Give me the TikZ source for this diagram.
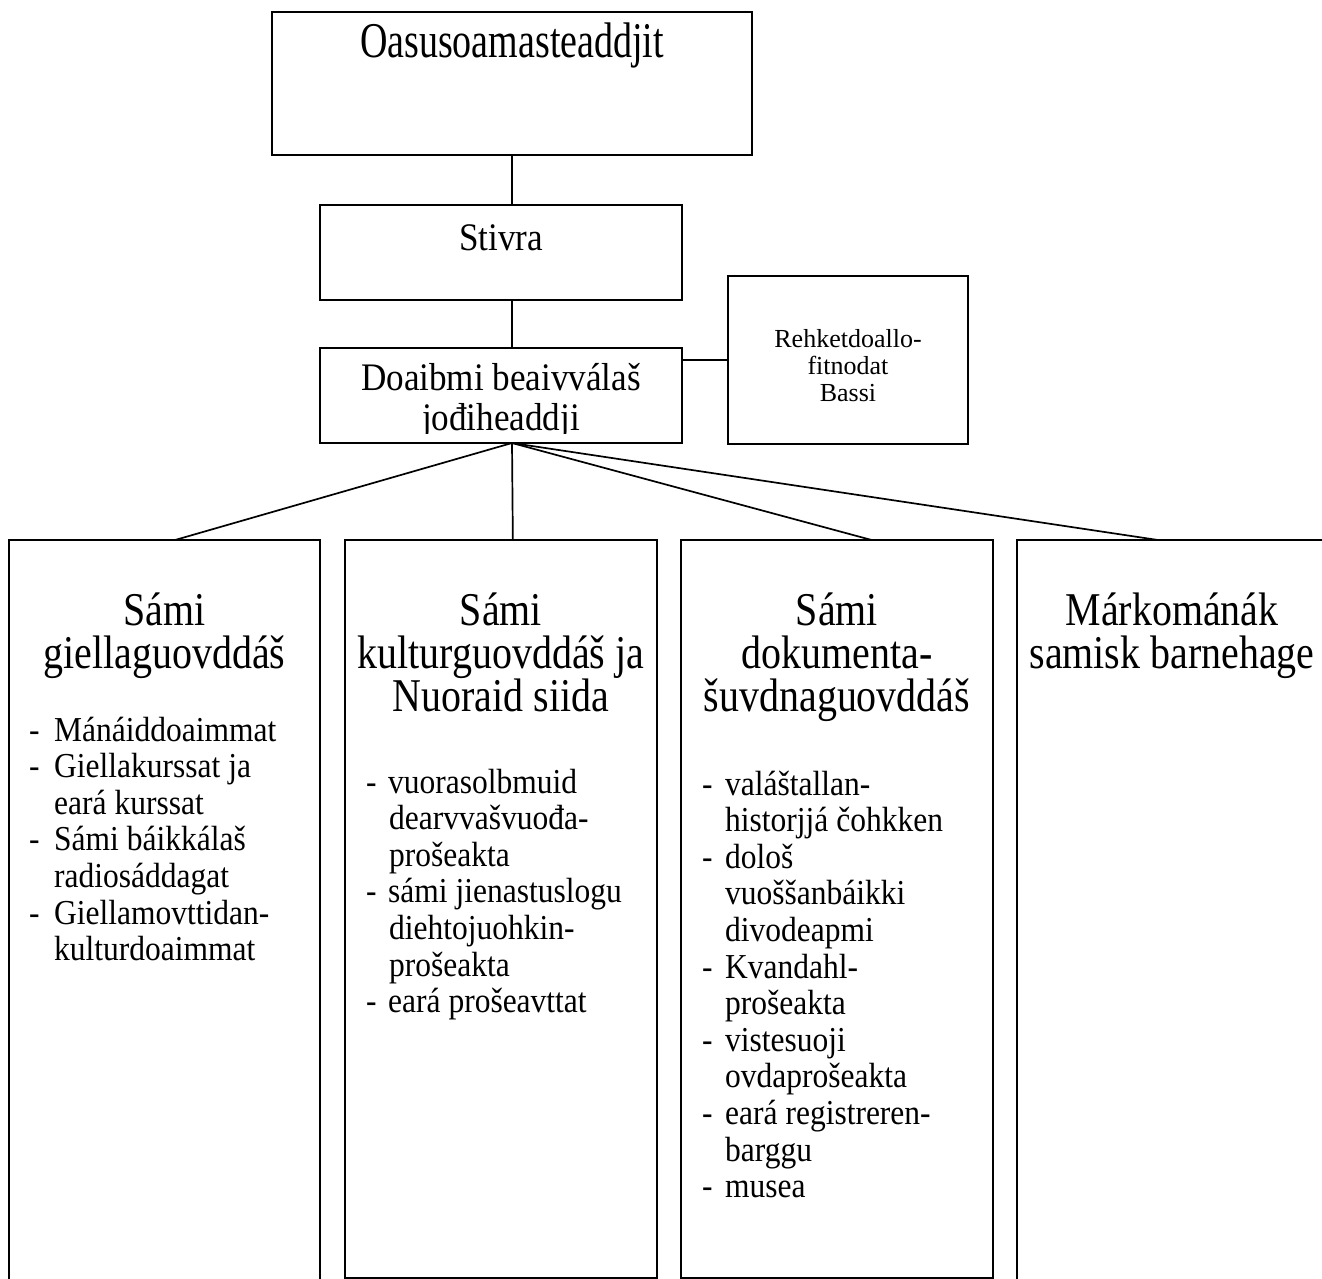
\documentclass[tikz,border=0pt]{standalone}
\usepackage{fontspec}
\setmainfont{Liberation Serif}
\newfontfamily\fA[FakeStretch=0.76]{Liberation Serif}
\newfontfamily\fT[FakeStretch=0.85]{Liberation Serif}
\newfontfamily\fB[FakeStretch=0.9]{Liberation Serif}
\newfontfamily\fC[FakeStretch=0.9]{Liberation Serif}
\usetikzlibrary{calc}
\begin{document}
\begin{tikzpicture}[x=1pt,y=-1pt,
  box/.style={draw, line width=1.7pt, inner sep=0pt, outer sep=0pt, anchor=north west},
  conn/.style={line width=1.7pt},
  ttl/.style={anchor=base, inner sep=0pt, align=center, font=\fT\fontsize{47}{43}\selectfont},
  mid/.style={anchor=base, inner sep=0pt, align=center, font=\fB\fontsize{39}{38}\selectfont},
  small/.style={anchor=base, inner sep=0pt, align=center, font=\fontsize{26}{27}\selectfont},
  lst/.style={anchor=base west, inner sep=0pt, align=left, font=\fC\fontsize{35}{36.6}\selectfont}]
\useasboundingbox (0,0) rectangle (1322,1279);
% boxes
\node[box, minimum width=480pt, minimum height=143pt] (top) at (272,12) {};
\node[box, minimum width=362pt, minimum height=95pt] (stivra) at (320,205) {};
\node[box, minimum width=362pt, minimum height=95pt] (doa) at (320,348) {};
\node[box, minimum width=240pt, minimum height=168pt] (rek) at (728,276) {};
\node[box, minimum width=311pt, minimum height=760pt] (b1) at (9,540) {};
\node[box, minimum width=312pt, minimum height=738pt] (b2) at (345,540) {};
\node[box, minimum width=312pt, minimum height=738pt] (b3) at (681,540) {};
\node[box, minimum width=311pt, minimum height=760pt] (b4) at (1017,540) {};
% connectors
\draw[conn] (top.south) -- (top.south |- stivra.north);
\draw[conn] (top.south |- stivra.south) -- (top.south |- doa.north);
\draw[conn] (rek.west) -- (rek.west -| doa.east);
\coordinate (apex) at (top.south |- doa.south);
\draw[conn] (apex) -- ($(b1.north west)!0.534!(b1.north east)$);
\draw[conn] (apex) -- ($(b2.north west)!0.538!(b2.north east)$);
\draw[conn] (apex) -- ($(b3.north west)!0.611!(b3.north east)$);
\draw[conn] (apex) -- ($(b4.north west)!0.453!(b4.north east)$);
% texts (anchor base = baseline of the last line)
\node[ttl, font=\fA\fontsize{50}{50}\selectfont] (ttop) at (512,58) {Oasusoamasteaddjit};
\node[mid] (tstivra) at (501,250) {Stivra};
\node[mid] (tdoa1) at (501,390) {Doaibmi beaivválaš};
\begin{scope}
\clip (320,350) rectangle (682,433);
\node[mid] (tdoa2) at (501,430) {jođiheaddji};
\end{scope}
\node[small] (trek) at (848,401) {Rehketdoallo-\\fitnodat\\Bassi};
\node[ttl] (tb1) at (164.5,668) {Sámi\\giellaguovddáš};
\node[ttl] (tb2) at (501,711) {Sámi\\kulturguovddáš ja\\Nuoraid siida};
\node[ttl] (tb3) at (837,711) {Sámi\\dokumenta-\\šuvdnaguovddáš};
\node[ttl] (tb4) at (1172,668) {Márkománák\\samisk barnehage};
\node[lst] (l1) at (29,960.6) {\makebox[25pt][l]{-}Mánáiddoaimmat\\
\makebox[25pt][l]{-}Giellakurssat ja\\
\hspace*{25pt}eará kurssat\\
\makebox[25pt][l]{-}Sámi báikkálaš\\
\hspace*{25pt}radiosáddagat\\
\makebox[25pt][l]{-}Giellamovttidan-\\
\hspace*{25pt}kulturdoaimmat};
\node[lst] (l2) at (366,1012.6) {\makebox[22pt][l]{-}vuorasolbmuid\\
\hspace*{23pt}dearvvašvuođa-\\
\hspace*{23pt}prošeakta\\
\makebox[22pt][l]{-}sámi jienastuslogu\\
\hspace*{23pt}diehtojuohkin-\\
\hspace*{23pt}prošeakta\\
\makebox[22pt][l]{-}eará prošeavttat};
\node[lst] (l3) at (702,1197.6) {\makebox[23pt][l]{-}valáštallan-\\
\hspace*{23pt}historjjá čohkken\\
\makebox[23pt][l]{-}dološ\\
\hspace*{23pt}vuoššanbáikki\\
\hspace*{23pt}divodeapmi\\
\makebox[23pt][l]{-}Kvandahl-\\
\hspace*{23pt}prošeakta\\
\makebox[23pt][l]{-}vistesuoji\\
\hspace*{23pt}ovdaprošeakta\\
\makebox[23pt][l]{-}eará registreren-\\
\hspace*{23pt}barggu\\
\makebox[23pt][l]{-}musea};
\end{tikzpicture}
\end{document}
